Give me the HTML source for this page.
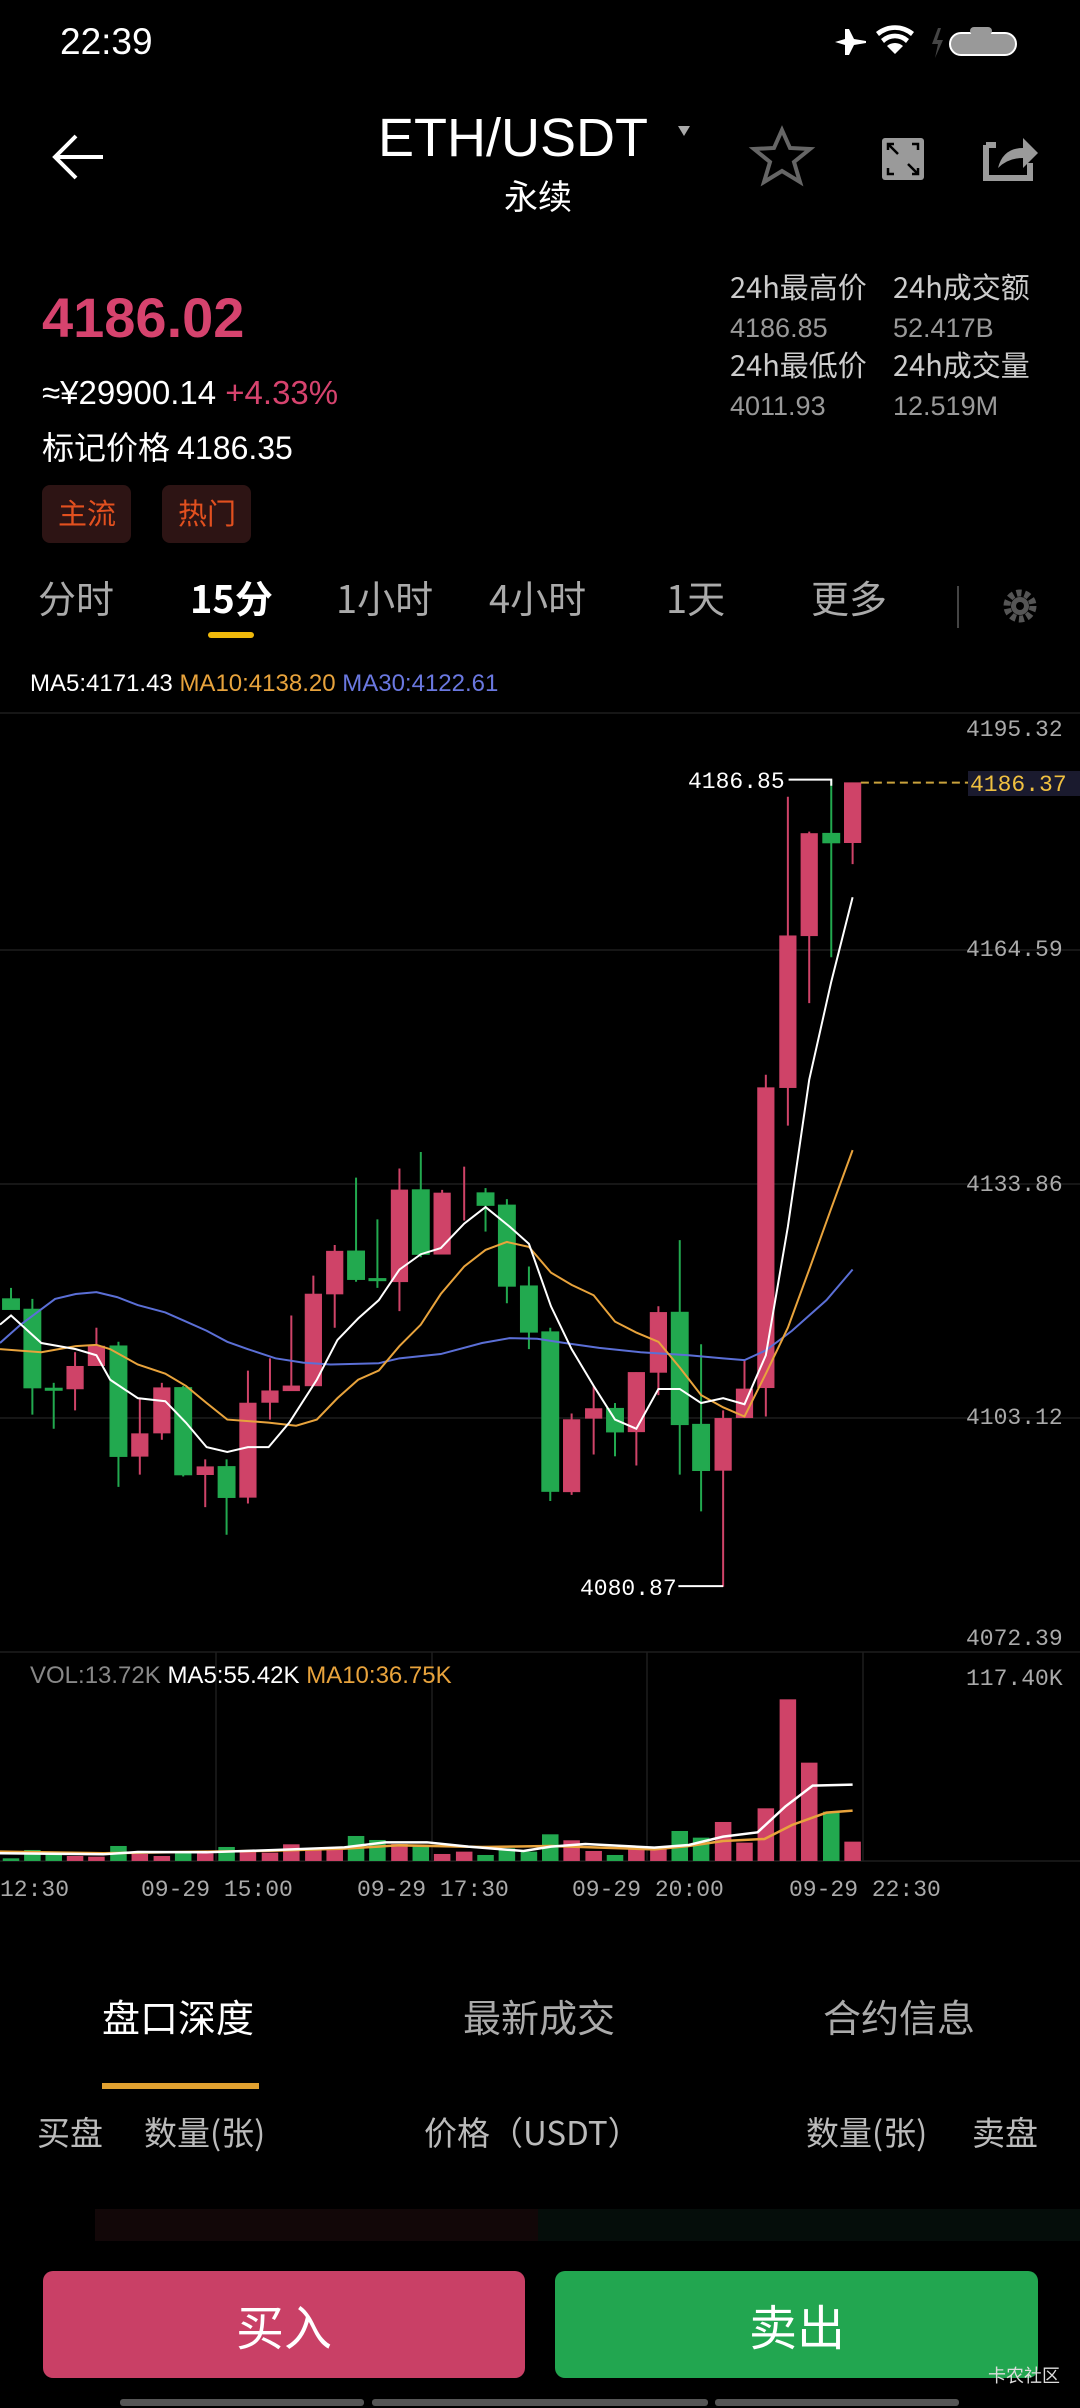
<!DOCTYPE html>
<html><head><meta charset="utf-8"><style>
*{margin:0;padding:0;box-sizing:border-box}
body{width:1080px;height:2408px;background:#000;position:relative;overflow:hidden;font-family:"Liberation Sans","Noto Sans CJK SC",sans-serif;color:#fff}
.a{position:absolute;white-space:nowrap;line-height:1}
.cj{font-family:"Noto Sans CJK SC","Liberation Sans",sans-serif}
</style></head><body>
<div class="a" style="left:60px;top:23px;font-size:37px">22:39</div>
<svg class="a" style="left:0;top:0" width="1080" height="700">
 <g fill="#fff"><path d="M835 42 l10-3 0-10 4 0 5 10 12 2 v2 l-12 2 -5 10 -4 0 0-10 -10-3z"/>
 <path d="M876 32 a30 30 0 0 1 38 0 l-3 4 a24 24 0 0 0 -32 0z M881 39 a21 21 0 0 1 28 0 l-3 4 a15 15 0 0 0 -22 0z M887 46 a12 12 0 0 1 16 0 l-8 8z"/></g>
 <path d="M938 28 l-6 16 h6 l-3 14 8-18 h-6 l4-12z" fill="#444"/>
 <rect x="950" y="33" width="66" height="22" rx="11" fill="#999" stroke="#fff" stroke-width="2"/>
 <rect x="970" y="27" width="22" height="8" rx="4" fill="#999"/>
 <path d="M103 157 H56 M76 136 L55 157 L76 178" stroke="#fff" stroke-width="4" fill="none"/>
 <path d="M678 126 h12 l-6 10z" fill="#aaa"/>
 <path d="M782 130 l8 18 20 1 -16 13 6 20 -18-11 -18 11 6-20 -16-13 20-1z" fill="none" stroke="#666" stroke-width="4"/>
 <rect x="882" y="138" width="42" height="42" rx="3" fill="#9a9a9a"/>
 <path d="M888 150 v-6 h6 M888 144 l10 10 M918 168 v6 h-6 M918 174 l-10-10 M912 144 h6 v6 M888 168 v6 h6" stroke="#000" stroke-width="2.5" fill="none"/>
 <path d="M986 145 h10 M986 145 v33 h44 v-15" stroke="#9a9a9a" stroke-width="6" fill="none"/>
 <path d="M998 168 q5-20 25-20 v-10 l15 15 -15 15 v-10 q-15 0 -25 10z" fill="#9a9a9a"/>
 <rect x="42" y="485" width="89" height="58" rx="8" fill="#2d1414"/>
 <rect x="162" y="485" width="89" height="58" rx="8" fill="#2d1414"/>
 <rect x="208" y="632" width="46" height="6" rx="3" fill="#f0b90b"/>
 <rect x="957" y="586" width="2" height="42" fill="#444"/>
 <circle cx="1020" cy="606" r="13" fill="none" stroke="#555" stroke-width="7" stroke-dasharray="5 3.2"/>
 <circle cx="1020" cy="606" r="9" fill="#555"/><circle cx="1020" cy="606" r="4" fill="#000"/>
</svg>
<div class="a" style="left:378px;top:111px;font-size:54px">ETH/USDT</div>
<div class="a cj" style="left:504px;top:178px;font-size:34px">永续</div>
<div class="a" style="left:42px;top:290px;font-size:56px;font-weight:bold;color:#d6436e">4186.02</div>
<div class="a" style="left:42px;top:376px;font-size:33px">≈¥29900.14 <span style="color:#d6436e">+4.33%</span></div>
<div class="a cj" style="left:42px;top:430px;font-size:32px">标记价格 <span style="font-family:'Liberation Sans'">4186.35</span></div>
<div class="a cj" style="left:58px;top:498px;font-size:29px;color:#e2501f">主流</div>
<div class="a cj" style="left:178px;top:498px;font-size:29px;color:#e2501f">热门</div>
<div class="a cj" style="left:730px;top:272px;font-size:29px;color:#ccc">24h最高价</div>
<div class="a cj" style="left:893px;top:272px;font-size:29px;color:#ccc">24h成交额</div>
<div class="a" style="left:730px;top:315px;font-size:27px;color:#999">4186.85</div>
<div class="a" style="left:893px;top:315px;font-size:27px;color:#999">52.417B</div>
<div class="a cj" style="left:730px;top:350px;font-size:29px;color:#ccc">24h最低价</div>
<div class="a cj" style="left:893px;top:350px;font-size:29px;color:#ccc">24h成交量</div>
<div class="a" style="left:730px;top:393px;font-size:27px;color:#999">4011.93</div>
<div class="a" style="left:893px;top:393px;font-size:27px;color:#999">12.519M</div>
<div class="a cj" style="left:38px;top:578px;font-size:38px;color:#aaa">分时</div>
<div class="a cj" style="left:190px;top:578px;font-size:38px;color:#fff;font-weight:bold">15分</div>
<div class="a cj" style="left:336px;top:578px;font-size:38px;color:#aaa">1小时</div>
<div class="a cj" style="left:489px;top:578px;font-size:38px;color:#aaa">4小时</div>
<div class="a cj" style="left:666px;top:578px;font-size:38px;color:#aaa">1天</div>
<div class="a cj" style="left:811px;top:578px;font-size:38px;color:#aaa">更多</div>
<div class="a" style="left:30px;top:672px;font-size:24px">MA5:4171.43 <span style="color:#e8a33c">MA10:4138.20</span> <span style="color:#6a78e0">MA30:4122.61</span></div>

<svg class="a" style="left:0;top:0" width="1080" height="2000">
 <g stroke="#1e1e1e" stroke-width="1.5">
  <line x1="0" y1="713" x2="1080" y2="713"/><line x1="0" y1="950" x2="1080" y2="950"/>
  <line x1="0" y1="1184" x2="1080" y2="1184"/><line x1="0" y1="1418" x2="1080" y2="1418"/>
  <line x1="0" y1="1652" x2="1080" y2="1652"/><line x1="0" y1="1861" x2="1080" y2="1861"/>
  <line x1="216" y1="1652" x2="216" y2="1861"/><line x1="432" y1="1652" x2="432" y2="1861"/>
  <line x1="647" y1="1652" x2="647" y2="1861"/><line x1="863" y1="1652" x2="863" y2="1861"/>
 </g>
 <g transform="matrix(0.6887,0,0,0.6124,0,700)">
  <g stroke="#22a94f" fill="#22a94f" stroke-width="2" vector-effect="non-scaling-stroke">
   <line x1="16" y1="960" x2="16" y2="995" vector-effect="non-scaling-stroke"/><rect x="4" y="978" width="24" height="17"/>
   <line x1="47" y1="978" x2="47" y2="1167" vector-effect="non-scaling-stroke"/><rect x="35" y="995" width="24" height="128"/>
   <line x1="78" y1="1115" x2="78" y2="1190" vector-effect="non-scaling-stroke"/><rect x="66" y="1124" width="24" height="3"/>
   <line x1="172" y1="1048" x2="172" y2="1285" vector-effect="non-scaling-stroke"/><rect x="160" y="1055" width="24" height="180"/>
   <line x1="266" y1="1120" x2="266" y2="1268" vector-effect="non-scaling-stroke"/><rect x="254" y="1123" width="24" height="142"/>
   <line x1="329" y1="1240" x2="329" y2="1363" vector-effect="non-scaling-stroke"/><rect x="317" y="1252" width="24" height="50"/>
   <line x1="517" y1="780" x2="517" y2="950" vector-effect="non-scaling-stroke"/><rect x="505" y="900" width="24" height="46"/>
   <line x1="548" y1="848" x2="548" y2="960" vector-effect="non-scaling-stroke"/><rect x="536" y="945" width="24" height="3"/>
   <line x1="611" y1="738" x2="611" y2="910" vector-effect="non-scaling-stroke"/><rect x="599" y="800" width="24" height="105"/>
   <line x1="705" y1="797" x2="705" y2="868" vector-effect="non-scaling-stroke"/><rect x="693" y="805" width="24" height="20"/>
   <line x1="736" y1="815" x2="736" y2="985" vector-effect="non-scaling-stroke"/><rect x="724" y="825" width="24" height="132"/>
   <line x1="768" y1="925" x2="768" y2="1060" vector-effect="non-scaling-stroke"/><rect x="756" y="957" width="24" height="75"/>
   <line x1="799" y1="1025" x2="799" y2="1308" vector-effect="non-scaling-stroke"/><rect x="787" y="1032" width="24" height="260"/>
   <line x1="893" y1="1148" x2="893" y2="1235" vector-effect="non-scaling-stroke"/><rect x="881" y="1157" width="24" height="38"/>
   <line x1="987" y1="882" x2="987" y2="1265" vector-effect="non-scaling-stroke"/><rect x="975" y="1000" width="24" height="183"/>
   <line x1="1018" y1="1052" x2="1018" y2="1325" vector-effect="non-scaling-stroke"/><rect x="1006" y="1183" width="24" height="75"/>
   <line x1="1207" y1="130" x2="1207" y2="420" vector-effect="non-scaling-stroke"/><rect x="1195" y="218" width="24" height="15"/>
  </g>
  <g stroke="#cf4368" fill="#cf4368">
   <line x1="109" y1="1065" x2="109" y2="1160" vector-effect="non-scaling-stroke" stroke-width="2"/><rect x="97" y="1088" width="24" height="37"/>
   <line x1="140" y1="1025" x2="140" y2="1087" vector-effect="non-scaling-stroke" stroke-width="2"/><rect x="128" y="1055" width="24" height="32"/>
   <line x1="203" y1="1140" x2="203" y2="1265" vector-effect="non-scaling-stroke" stroke-width="2"/><rect x="191" y="1198" width="24" height="37"/>
   <line x1="235" y1="1115" x2="235" y2="1208" vector-effect="non-scaling-stroke" stroke-width="2"/><rect x="223" y="1123" width="24" height="74"/>
   <line x1="298" y1="1240" x2="298" y2="1318" vector-effect="non-scaling-stroke" stroke-width="2"/><rect x="286" y="1252" width="24" height="13"/>
   <line x1="360" y1="1095" x2="360" y2="1312" vector-effect="non-scaling-stroke" stroke-width="2"/><rect x="348" y="1148" width="24" height="154"/>
   <line x1="392" y1="1075" x2="392" y2="1175" vector-effect="non-scaling-stroke" stroke-width="2"/><rect x="380" y="1128" width="24" height="19"/>
   <line x1="423" y1="1005" x2="423" y2="1128" vector-effect="non-scaling-stroke" stroke-width="2"/><rect x="411" y="1120" width="24" height="8"/>
   <line x1="455" y1="940" x2="455" y2="1120" vector-effect="non-scaling-stroke" stroke-width="2"/><rect x="443" y="970" width="24" height="150"/>
   <line x1="486" y1="890" x2="486" y2="1025" vector-effect="non-scaling-stroke" stroke-width="2"/><rect x="474" y="900" width="24" height="70"/>
   <line x1="580" y1="765" x2="580" y2="998" vector-effect="non-scaling-stroke" stroke-width="2"/><rect x="568" y="800" width="24" height="150"/>
   <line x1="642" y1="800" x2="642" y2="905" vector-effect="non-scaling-stroke" stroke-width="2"/><rect x="630" y="805" width="24" height="100"/>
   <line x1="674" y1="762" x2="674" y2="850" vector-effect="non-scaling-stroke" stroke-width="2"/>
   <line x1="830" y1="1165" x2="830" y2="1298" vector-effect="non-scaling-stroke" stroke-width="2"/><rect x="818" y="1175" width="24" height="118"/>
   <line x1="862" y1="1120" x2="862" y2="1232" vector-effect="non-scaling-stroke" stroke-width="2"/><rect x="850" y="1157" width="24" height="16"/>
   <line x1="924" y1="1098" x2="924" y2="1250" vector-effect="non-scaling-stroke" stroke-width="2"/><rect x="912" y="1098" width="24" height="97"/>
   <line x1="956" y1="990" x2="956" y2="1135" vector-effect="non-scaling-stroke" stroke-width="2"/><rect x="944" y="1000" width="24" height="98"/>
   <line x1="1050" y1="1160" x2="1050" y2="1448" vector-effect="non-scaling-stroke" stroke-width="2"/><rect x="1038" y="1173" width="24" height="85"/>
   <line x1="1081" y1="1078" x2="1081" y2="1172" vector-effect="non-scaling-stroke" stroke-width="2"/><rect x="1069" y="1125" width="24" height="47"/>
   <line x1="1112" y1="612" x2="1112" y2="1170" vector-effect="non-scaling-stroke" stroke-width="2"/><rect x="1100" y="633" width="24" height="490"/>
   <line x1="1144" y1="158" x2="1144" y2="695" vector-effect="non-scaling-stroke" stroke-width="2"/><rect x="1132" y="385" width="24" height="248"/>
   <line x1="1175" y1="215" x2="1175" y2="495" vector-effect="non-scaling-stroke" stroke-width="2"/><rect x="1163" y="218" width="24" height="167"/>
   <line x1="1238" y1="135" x2="1238" y2="268" vector-effect="non-scaling-stroke" stroke-width="2"/><rect x="1226" y="135" width="24" height="98"/>
  </g>
  <g fill="none" stroke-width="2" vector-effect="non-scaling-stroke">
   <polyline vector-effect="non-scaling-stroke" stroke="#5b6fd6" points="0,1050 30,1020 80,978 110,970 140,967 170,975 200,988 240,1000 270,1015 300,1030 330,1048 360,1060 400,1075 440,1082 480,1085 550,1083 580,1075 640,1068 700,1050 740,1042 780,1043 820,1050 870,1058 930,1065 1000,1070 1050,1075 1081,1078 1112,1062 1150,1030 1200,980 1238,930"/>
   <polyline vector-effect="non-scaling-stroke" stroke="#e8a33c" points="0,1060 60,1065 110,1055 140,1053 160,1060 200,1085 240,1100 270,1120 300,1148 330,1175 390,1180 430,1185 460,1175 490,1140 520,1110 550,1095 580,1055 611,1020 640,970 674,925 705,898 736,885 768,893 800,935 830,955 862,972 893,1015 924,1033 956,1048 987,1090 1018,1135 1050,1155 1081,1170 1112,1100 1144,1025 1175,930 1207,830 1238,735"/>
   <polyline vector-effect="non-scaling-stroke" stroke="#fff" points="0,1020 16,1005 60,1050 110,1060 140,1070 160,1110 200,1140 240,1145 270,1180 300,1220 330,1228 360,1220 390,1220 420,1180 460,1110 490,1045 520,1010 550,980 580,930 611,905 640,895 674,855 705,828 740,860 768,888 800,990 830,1060 862,1120 893,1175 924,1190 956,1125 987,1125 1018,1148 1050,1140 1081,1150 1112,1070 1144,860 1175,620 1207,460 1238,322"/>
   <polyline vector-effect="non-scaling-stroke" stroke="#fff" points="1145,130 1207,130 1207,140"/>
   <polyline vector-effect="non-scaling-stroke" stroke="#fff" points="985,1447 1050,1447"/>
   <line x1="1250" y1="135" x2="1408" y2="135" stroke="#c9a23c" stroke-dasharray="8 5" vector-effect="non-scaling-stroke"/>
  </g>
 </g>
 <g transform="matrix(0.6887,0,0,0.3333,0,1640)">
  <g fill="#22a94f">
   <rect x="4" y="655" width="24" height="8"/><rect x="35" y="630" width="24" height="33"/><rect x="66" y="640" width="24" height="23"/>
   <rect x="160" y="618" width="24" height="45"/><rect x="254" y="640" width="24" height="23"/><rect x="317" y="621" width="24" height="42"/>
   <rect x="505" y="588" width="24" height="75"/><rect x="536" y="600" width="24" height="63"/><rect x="599" y="615" width="24" height="48"/>
   <rect x="693" y="645" width="24" height="18"/><rect x="724" y="625" width="24" height="38"/><rect x="756" y="635" width="24" height="28"/>
   <rect x="787" y="583" width="24" height="80"/><rect x="881" y="645" width="24" height="18"/><rect x="975" y="573" width="24" height="90"/>
   <rect x="1006" y="593" width="24" height="70"/><rect x="1195" y="515" width="24" height="148"/>
  </g>
  <g fill="#cf4368">
   <rect x="97" y="648" width="24" height="15"/><rect x="128" y="650" width="24" height="13"/><rect x="191" y="642" width="24" height="21"/>
   <rect x="223" y="648" width="24" height="15"/><rect x="286" y="640" width="24" height="23"/><rect x="348" y="632" width="24" height="31"/>
   <rect x="380" y="638" width="24" height="25"/><rect x="411" y="613" width="24" height="50"/><rect x="443" y="625" width="24" height="38"/>
   <rect x="474" y="625" width="24" height="38"/><rect x="568" y="612" width="24" height="51"/><rect x="630" y="642" width="24" height="21"/>
   <rect x="662" y="635" width="24" height="28"/><rect x="818" y="601" width="24" height="62"/><rect x="850" y="633" width="24" height="30"/>
   <rect x="912" y="628" width="24" height="35"/><rect x="944" y="628" width="24" height="35"/><rect x="1038" y="546" width="24" height="117"/>
   <rect x="1069" y="608" width="24" height="55"/><rect x="1100" y="505" width="24" height="158"/><rect x="1132" y="178" width="24" height="485"/>
   <rect x="1163" y="368" width="24" height="295"/><rect x="1226" y="605" width="24" height="58"/>
  </g>
  <g fill="none">
   <polyline vector-effect="non-scaling-stroke" stroke="#e8a33c" stroke-width="2.5" points="0,635 150,640 300,635 400,632 500,626 580,616 700,621 800,618 950,628 1000,618 1050,603 1110,597 1150,555 1200,518 1238,512"/>
   <polyline vector-effect="non-scaling-stroke" stroke="#fff" stroke-width="2.5" points="0,640 150,643 200,636 300,637 400,630 500,622 560,607 620,607 680,620 760,633 800,620 850,612 950,623 1000,615 1050,590 1100,577 1140,500 1180,437 1238,434"/>
  </g>
 </g>
 <rect x="968" y="771" width="112" height="25" fill="#1a1a2e"/>
 <g font-family="Liberation Mono, monospace" font-size="23">
  <g fill="#aaa">
   <text x="966" y="736">4195.32</text><text x="966" y="956">4164.59</text><text x="966" y="1191">4133.86</text>
   <text x="966" y="1424">4103.12</text><text x="966" y="1645">4072.39</text>
  </g>
  <text x="970" y="791" fill="#f0c040">4186.37</text>
  <text x="688" y="788" fill="#fff">4186.85</text>
  <text x="580" y="1595" fill="#fff">4080.87</text>
  <g fill="#aaa"><text x="0" y="1896">12:30</text><text x="141" y="1896">09-29 15:00</text><text x="357" y="1896">09-29 17:30</text><text x="572" y="1896">09-29 20:00</text><text x="789" y="1896">09-29 22:30</text><text x="966" y="1685">117.40K</text></g>
 </g>
</svg>
<div class="a" style="left:30px;top:1664px;font-size:24px;color:#888">VOL:13.72K <span style="color:#fff">MA5:55.42K</span> <span style="color:#e8a33c">MA10:36.75K</span></div>

<div class="a cj" style="left:102px;top:1997px;font-size:38px;color:#fff">盘口深度</div>
<div class="a cj" style="left:463px;top:1997px;font-size:38px;color:#aaa">最新成交</div>
<div class="a cj" style="left:823px;top:1997px;font-size:38px;color:#aaa">合约信息</div>
<div class="a" style="left:102px;top:2083px;width:157px;height:6px;background:#e0a030"></div>
<div class="a cj" style="left:37px;top:2115px;font-size:33px;color:#bbb">买盘</div>
<div class="a cj" style="left:144px;top:2115px;font-size:33px;color:#bbb">数量(张)</div>
<div class="a cj" style="left:424px;top:2115px;font-size:33px;color:#bbb">价格（USDT）</div>
<div class="a cj" style="left:806px;top:2115px;font-size:33px;color:#bbb">数量(张)</div>
<div class="a cj" style="left:972px;top:2115px;font-size:33px;color:#bbb">卖盘</div>
<div class="a" style="left:95px;top:2209px;width:443px;height:32px;background:#120708"></div>
<div class="a" style="left:538px;top:2209px;width:542px;height:32px;background:#050d0a"></div>
<div class="a" style="left:43px;top:2271px;width:482px;height:107px;background:#c94066;border-radius:10px"></div>
<div class="a" style="left:555px;top:2271px;width:483px;height:107px;background:#22a650;border-radius:10px"></div>
<div class="a cj" style="left:236px;top:2300px;font-size:48px;color:#fff">买入</div>
<div class="a cj" style="left:749px;top:2300px;font-size:48px;color:#fff">卖出</div>
<div class="a cj" style="left:988px;top:2366px;font-size:18px;color:#ddd">卡农社区</div>
<div class="a" style="left:120px;top:2399px;width:244px;height:7px;background:#555;border-radius:3px"></div>
<div class="a" style="left:372px;top:2399px;width:336px;height:7px;background:#555;border-radius:3px"></div>
<div class="a" style="left:715px;top:2399px;width:244px;height:7px;background:#555;border-radius:3px"></div>
</body></html>
